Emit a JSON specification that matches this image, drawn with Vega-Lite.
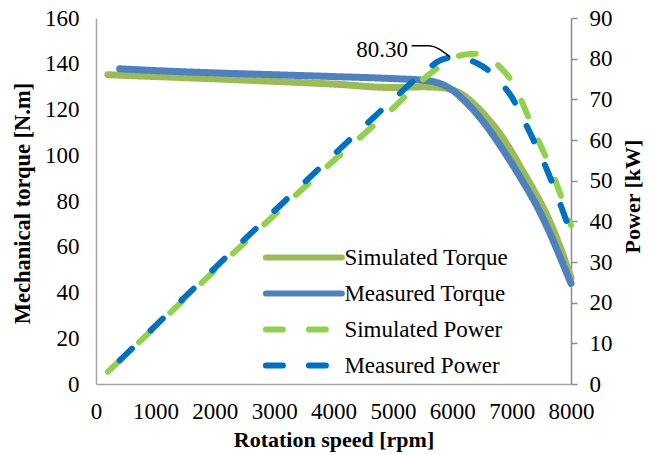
{
  "$schema": "https://vega.github.io/schema/vega-lite/v6.json",
  "width": 475,
  "height": 366,
  "autosize": {"type": "none"},
  "padding": {"left": 96, "top": 18, "right": 82, "bottom": 71},
  "background": "white",
  "datasets": {
    "torque": [
      {"rpm": 200, "torque": 135.2, "series": "Simulated Torque"},
      {"rpm": 1000, "torque": 134.4, "series": "Simulated Torque"},
      {"rpm": 2000, "torque": 133.4, "series": "Simulated Torque"},
      {"rpm": 3000, "torque": 132.3, "series": "Simulated Torque"},
      {"rpm": 4000, "torque": 131.1, "series": "Simulated Torque"},
      {"rpm": 5000, "torque": 129.6, "series": "Simulated Torque"},
      {"rpm": 5500, "torque": 129.9, "series": "Simulated Torque"},
      {"rpm": 5800, "torque": 129.6, "series": "Simulated Torque"},
      {"rpm": 6000, "torque": 128.6, "series": "Simulated Torque"},
      {"rpm": 6200, "torque": 126.0, "series": "Simulated Torque"},
      {"rpm": 6400, "torque": 121.5, "series": "Simulated Torque"},
      {"rpm": 6600, "torque": 116.0, "series": "Simulated Torque"},
      {"rpm": 6800, "torque": 109.5, "series": "Simulated Torque"},
      {"rpm": 7000, "torque": 101.5, "series": "Simulated Torque"},
      {"rpm": 7200, "torque": 92.5, "series": "Simulated Torque"},
      {"rpm": 7400, "torque": 83.5, "series": "Simulated Torque"},
      {"rpm": 7600, "torque": 73.5, "series": "Simulated Torque"},
      {"rpm": 7800, "torque": 61.0, "series": "Simulated Torque"},
      {"rpm": 8000, "torque": 46.5, "series": "Simulated Torque"},
      {"rpm": 400, "torque": 137.8, "series": "Measured Torque"},
      {"rpm": 1000, "torque": 137.0, "series": "Measured Torque"},
      {"rpm": 2000, "torque": 136.0, "series": "Measured Torque"},
      {"rpm": 3000, "torque": 135.2, "series": "Measured Torque"},
      {"rpm": 4000, "torque": 134.4, "series": "Measured Torque"},
      {"rpm": 5000, "torque": 133.5, "series": "Measured Torque"},
      {"rpm": 5500, "torque": 132.8, "series": "Measured Torque"},
      {"rpm": 5800, "torque": 131.3, "series": "Measured Torque"},
      {"rpm": 6000, "torque": 128.5, "series": "Measured Torque"},
      {"rpm": 6200, "torque": 124.0, "series": "Measured Torque"},
      {"rpm": 6400, "torque": 118.5, "series": "Measured Torque"},
      {"rpm": 6600, "torque": 112.0, "series": "Measured Torque"},
      {"rpm": 6800, "torque": 104.5, "series": "Measured Torque"},
      {"rpm": 7000, "torque": 96.5, "series": "Measured Torque"},
      {"rpm": 7200, "torque": 88.0, "series": "Measured Torque"},
      {"rpm": 7400, "torque": 79.0, "series": "Measured Torque"},
      {"rpm": 7600, "torque": 68.5, "series": "Measured Torque"},
      {"rpm": 7800, "torque": 56.5, "series": "Measured Torque"},
      {"rpm": 8000, "torque": 44.0, "series": "Measured Torque"}
    ],
    "power": [
      {"rpm": 200, "power": 3.0, "series": "Simulated Power"},
      {"rpm": 1000, "power": 14.1, "series": "Simulated Power"},
      {"rpm": 2000, "power": 27.9, "series": "Simulated Power"},
      {"rpm": 3000, "power": 41.5, "series": "Simulated Power"},
      {"rpm": 4000, "power": 54.9, "series": "Simulated Power"},
      {"rpm": 5000, "power": 67.8, "series": "Simulated Power"},
      {"rpm": 5500, "power": 74.8, "series": "Simulated Power"},
      {"rpm": 5800, "power": 78.2, "series": "Simulated Power"},
      {"rpm": 6000, "power": 80.0, "series": "Simulated Power"},
      {"rpm": 6200, "power": 81.0, "series": "Simulated Power"},
      {"rpm": 6400, "power": 81.2, "series": "Simulated Power"},
      {"rpm": 6600, "power": 80.5, "series": "Simulated Power"},
      {"rpm": 6800, "power": 78.0, "series": "Simulated Power"},
      {"rpm": 7000, "power": 74.5, "series": "Simulated Power"},
      {"rpm": 7200, "power": 68.5, "series": "Simulated Power"},
      {"rpm": 7400, "power": 61.5, "series": "Simulated Power"},
      {"rpm": 7600, "power": 55.0, "series": "Simulated Power"},
      {"rpm": 7800, "power": 47.5, "series": "Simulated Power"},
      {"rpm": 8000, "power": 39.0, "series": "Simulated Power"},
      {"rpm": 400, "power": 5.8, "series": "Measured Power"},
      {"rpm": 1000, "power": 14.3, "series": "Measured Power"},
      {"rpm": 2000, "power": 28.5, "series": "Measured Power"},
      {"rpm": 3000, "power": 42.5, "series": "Measured Power"},
      {"rpm": 4000, "power": 56.3, "series": "Measured Power"},
      {"rpm": 5000, "power": 69.9, "series": "Measured Power"},
      {"rpm": 5500, "power": 76.4, "series": "Measured Power"},
      {"rpm": 5800, "power": 79.6, "series": "Measured Power"},
      {"rpm": 6000, "power": 80.3, "series": "Measured Power"},
      {"rpm": 6200, "power": 80.0, "series": "Measured Power"},
      {"rpm": 6400, "power": 79.0, "series": "Measured Power"},
      {"rpm": 6600, "power": 77.2, "series": "Measured Power"},
      {"rpm": 6800, "power": 74.3, "series": "Measured Power"},
      {"rpm": 7000, "power": 70.6, "series": "Measured Power"},
      {"rpm": 7200, "power": 65.0, "series": "Measured Power"},
      {"rpm": 7400, "power": 59.0, "series": "Measured Power"},
      {"rpm": 7600, "power": 52.5, "series": "Measured Power"},
      {"rpm": 7800, "power": 45.0, "series": "Measured Power"},
      {"rpm": 8000, "power": 37.0, "series": "Measured Power"}
    ],
    "peakCallout": [
      {"rpm": 5316, "power": 83.2},
      {"rpm": 5600, "power": 83.2},
      {"rpm": 5960, "power": 80.5}
    ],
    "peakLabel": [
      {"rpm": 5254, "power": 82.1, "label": "80.30"}
    ]
  },
  "encoding": {
    "x": {
      "field": "rpm",
      "type": "quantitative",
      "scale": {"domain": [0, 8000], "nice": false},
      "axis": {
        "title": "Rotation speed [rpm]",
        "values": [0, 1000, 2000, 3000, 4000, 5000, 6000, 7000, 8000],
        "format": "d",
        "ticks": false,
        "tickSize": 0,
        "labelFlush": false,
        "labelOverlap": false,
        "labelPadding": 16,
        "titlePadding": 6,
        "domainColor": "#A6A6A6"
      }
    }
  },
  "layer": [
    {
      "data": {"name": "torque"},
      "encoding": {
        "y": {
          "field": "torque",
          "type": "quantitative",
          "scale": {"domain": [0, 160], "nice": false},
          "axis": {
            "title": "Mechanical torque [N.m]",
            "values": [0, 20, 40, 60, 80, 100, 120, 140, 160],
            "ticks": false,
            "tickSize": 0,
            "labelFlush": false,
            "labelOverlap": false,
            "labelPadding": 17,
            "titleAngle": -90,
            "titleAlign": "center",
            "titleBaseline": "middle",
            "titleFontSize": 22.5,
            "titleX": -74,
            "titleY": 185,
            "domainColor": "#A6A6A6"
          }
        },
        "color": {
          "field": "series",
          "type": "nominal",
          "scale": {
            "domain": ["Simulated Torque", "Measured Torque", "Simulated Power", "Measured Power"],
            "range": ["#9BBB59", "#4F81BD", "#92D050", "#0070C0"]
          },
          "legend": {
            "orient": "none",
            "legendX": 166,
            "legendY": 228,
            "title": null,
            "padding": 0,
            "symbolType": "M-5,0L5,0",
            "symbolSize": 231,
            "symbolOffset": 30.4,
            "symbolStrokeWidth": 6,
            "labelFont": "Liberation Serif",
            "labelFontSize": 23,
            "labelColor": "#000000",
            "labelOffset": 29,
            "rowPadding": 11,
            "labelLimit": 300,
            "encode": {"symbols": {"update": {"strokeCap": {"value": "round"}}}}
          }
        },
        "strokeDash": {
          "field": "series",
          "type": "nominal",
          "scale": {
            "domain": ["Simulated Torque", "Measured Torque", "Simulated Power", "Measured Power"],
            "range": [[1, 0], [1, 0], [17, 26], [17, 26]]
          },
          "legend": {
            "orient": "none",
            "legendX": 166,
            "legendY": 228,
            "title": null
          }
        }
      },
      "layer": [
        {
          "transform": [{"filter": "datum.series === 'Simulated Torque'"}],
          "mark": {"type": "line", "strokeWidth": 7, "strokeCap": "round", "interpolate": "monotone"}
        },
        {
          "transform": [{"filter": "datum.series === 'Measured Torque'"}],
          "mark": {"type": "line", "strokeWidth": 7, "strokeCap": "round", "interpolate": "monotone"}
        }
      ]
    },
    {
      "encoding": {
        "y": {
          "field": "power",
          "type": "quantitative",
          "scale": {"domain": [0, 90], "nice": false},
          "axis": {
            "orient": "right",
            "title": "Power [kW]",
            "titleAngle": -90,
            "titleAlign": "center",
            "titleBaseline": "middle",
            "titleX": 61,
            "titleY": 178,
            "values": [0, 10, 20, 30, 40, 50, 60, 70, 80, 90],
            "labelFlush": false,
            "labelOverlap": false,
            "tickSize": 6,
            "tickColor": "#8C8C8C",
            "tickWidth": 1.5,
            "labelPadding": 12,
            "domainColor": "#8C8C8C"
          }
        }
      },
      "layer": [
        {
          "data": {"name": "power"},
          "transform": [{"filter": "datum.series === 'Simulated Power'"}],
          "mark": {"type": "line", "strokeWidth": 6, "strokeCap": "round", "interpolate": "monotone"},
          "encoding": {
            "color": {"field": "series", "type": "nominal"},
            "strokeDash": {"field": "series", "type": "nominal"}
          }
        },
        {
          "data": {"name": "power"},
          "transform": [{"filter": "datum.series === 'Measured Power'"}],
          "mark": {"type": "line", "strokeWidth": 6, "strokeCap": "round", "interpolate": "monotone"},
          "encoding": {
            "color": {"field": "series", "type": "nominal"},
            "strokeDash": {"field": "series", "type": "nominal"}
          }
        },
        {
          "data": {"name": "peakCallout"},
          "mark": {"type": "line", "color": "#000000", "strokeWidth": 1.5, "interpolate": "monotone"},
          "encoding": {}
        },
        {
          "data": {"name": "peakLabel"},
          "mark": {"type": "text", "align": "right", "baseline": "middle", "font": "Liberation Serif", "fontSize": 23, "color": "#000000"},
          "encoding": {"text": {"field": "label"}}
        }
      ]
    }
  ],
  "resolve": {"scale": {"y": "independent"}},
  "config": {
    "view": {"stroke": null},
    "font": "Liberation Serif",
    "axis": {
      "grid": false,
      "domainWidth": 1.5,
      "labelFont": "Liberation Serif",
      "labelFontSize": 23,
      "labelColor": "#000000",
      "titleFont": "Liberation Serif",
      "titleFontSize": 22,
      "titleFontWeight": "bold",
      "titleColor": "#000000"
    }
  }
}
